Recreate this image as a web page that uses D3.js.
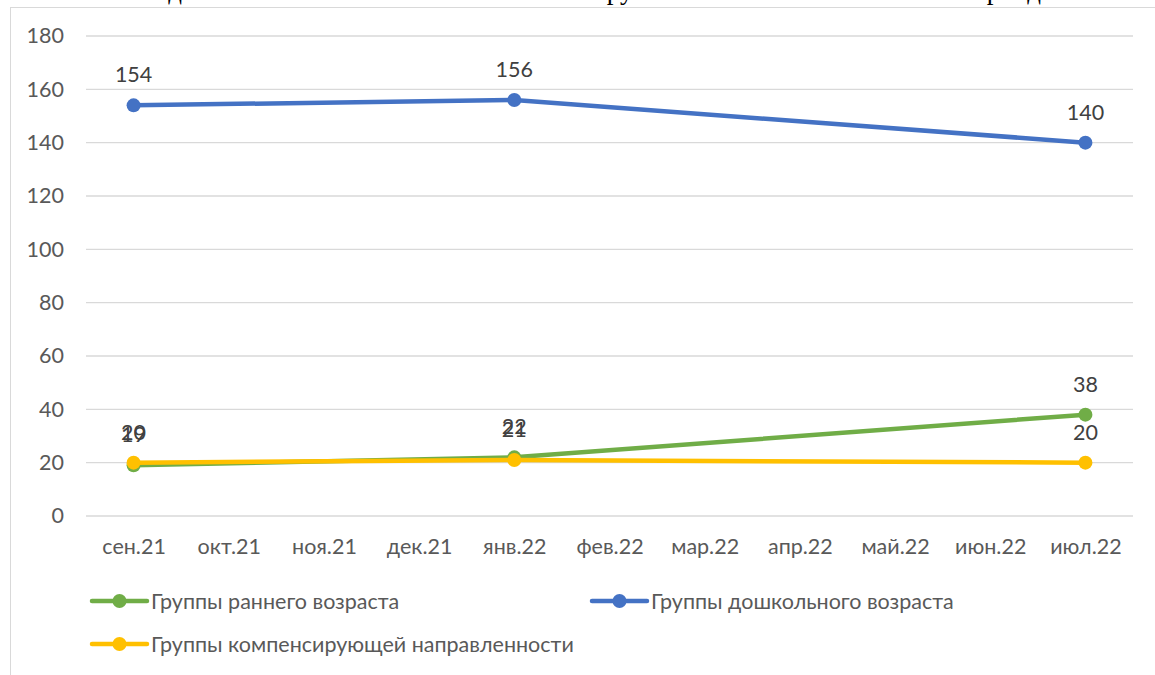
<!DOCTYPE html>
<html><head><meta charset="utf-8">
<script src="https://cdn.jsdelivr.net/npm/d3@7/dist/d3.min.js"></script>
<style>
html,body{margin:0;padding:0;background:#fff;overflow:hidden;}
svg{display:block;}
</style></head>
<body>
<svg id="chart" width="1155" height="675"></svg>
<script>
const categories = ["сен.21","окт.21","ноя.21","дек.21","янв.22","фев.22","мар.22","апр.22","май.22","июн.22","июл.22"];
const dataMonths = ["сен.21","янв.22","июл.22"];
const earlyValues = [19, 22, 38];
const preschoolValues = [154, 156, 140];
const compensValues = [20, 21, 20];
const yTicks = [0,20,40,60,80,100,120,140,160,180];
const seriesNames = ["Группы раннего возраста","Группы дошкольного возраста","Группы компенсирующей направленности"];
const seriesColors = ["#70AD47","#4472C4","#FFC000"];
const titleText = "Сведения о количестве воспитанников в группах на начало и окончание периода";

const svg = d3.select("#chart");
const font = "Lato, 'Open Sans', sans-serif";
const textColor = "#595959";
const fs = 21.5;

// title (mostly cropped off at top)
svg.append("text").attr("x", 126).attr("y", -1)
  .attr("font-family","'Liberation Serif', 'Times New Roman', serif")
  .attr("font-size", 27).attr("fill","#000").text(titleText);

// chart area border
svg.append("rect").attr("x",10.5).attr("y",7.5).attr("width",1200).attr("height",700)
  .attr("fill","none").attr("stroke","#d9d9d9").attr("stroke-width",1);

const x = d3.scalePoint().domain(categories).range([86,1133]).padding(0.5);
const y = d3.scaleLinear().domain([0,180]).range([516,36]);

// grid
svg.append("g").selectAll("line").data(yTicks).join("line")
  .attr("x1",86).attr("x2",1133)
  .attr("y1",d=>y(d)).attr("y2",d=>y(d))
  .attr("stroke","#d9d9d9").attr("stroke-width",1.3);

// y axis labels
const yAxis = d3.axisLeft(y).tickValues(yTicks).tickSize(0).tickPadding(0);
const yg = svg.append("g").attr("transform","translate(64,0)").call(yAxis);
yg.select(".domain").remove();
yg.selectAll("text").attr("font-family",font).attr("font-size",fs).attr("fill",textColor);

// x axis labels
const xAxis = d3.axisBottom(x).tickSize(0).tickPadding(0);
const xg = svg.append("g").attr("transform","translate(0,539)").call(xAxis);
xg.select(".domain").remove();
xg.selectAll("text").attr("font-family",font).attr("font-size",fs).attr("fill",textColor);

const seriesVals = [earlyValues, preschoolValues, compensValues];
const line = d3.line().x(d=>x(d.m)).y(d=>y(d.v));

seriesVals.forEach((vals,i)=>{
  const pts = dataMonths.map((m,j)=>({m, v: vals[j]}));
  const g = svg.append("g");
  g.append("path").datum(pts).attr("d",line).attr("fill","none")
    .attr("stroke",seriesColors[i]).attr("stroke-width",4.5).attr("stroke-linecap","round").attr("stroke-linejoin","round");
  g.selectAll("circle").data(pts).join("circle")
    .attr("cx",d=>x(d.m)).attr("cy",d=>y(d.v)).attr("r",7)
    .attr("fill",seriesColors[i]);
});
// data labels
seriesVals.forEach((vals,i)=>{
  const pts = dataMonths.map((m,j)=>({m, v: vals[j]}));
  svg.append("g").selectAll("text").data(pts).join("text")
    .attr("x",d=>x(d.m)).attr("y",d=>y(d.v)-23)
    .attr("text-anchor","middle")
    .attr("font-family",font).attr("font-size",fs).attr("fill","#404040")
    .text(d=>d.v);
});

// legend
const legendPos = [[92,601],[592,601],[92,644]];
seriesNames.forEach((name,i)=>{
  const [lx,ly] = legendPos[i];
  const g = svg.append("g");
  g.append("line").attr("x1",lx).attr("x2",lx+55).attr("y1",ly).attr("y2",ly)
    .attr("stroke",seriesColors[i]).attr("stroke-width",4.5).attr("stroke-linecap","round");
  g.append("circle").attr("cx",lx+27.5).attr("cy",ly).attr("r",7).attr("fill",seriesColors[i]);
  g.append("text").attr("x",lx+59).attr("y",ly).attr("dy","0.35em")
    .attr("font-family",font).attr("font-size",fs).attr("fill",textColor).text(name);
});
</script>
</body></html>
